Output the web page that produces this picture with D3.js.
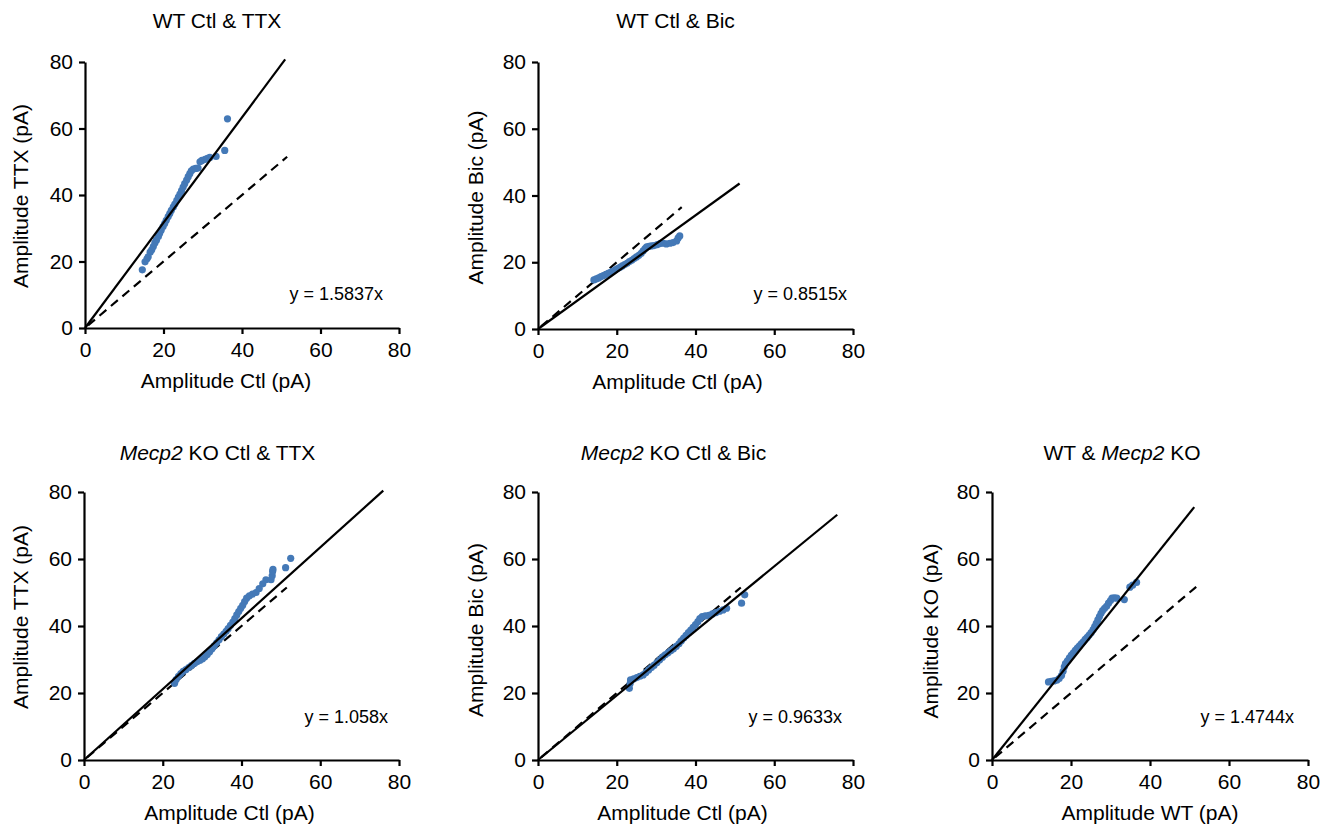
<!DOCTYPE html>
<html>
<head>
<meta charset="utf-8">
<script src="https://cdn.jsdelivr.net/npm/d3@7"></script>
<style>
  body { margin: 0; background: #fff; }
  svg { font-family: "Liberation Sans", Arial, Helvetica, sans-serif; }
  .axis path, .axis line { stroke: #000; stroke-width: 2.2; }
  .axis text { font-size: 21px; fill: #000; }
</style>
</head>
<body>
<svg id="chart" width="1331" height="826"></svg>
<script>
// values (pA)
var titles = [
  [["WT Ctl & TTX", false]],
  [["WT Ctl & Bic", false]],
  [["Mecp2", true], [" KO Ctl & TTX", false]],
  [["Mecp2", true], [" KO Ctl & Bic", false]],
  [["WT & ", false], ["Mecp2", true], [" KO", false]]
]
var xLabels = ["Amplitude Ctl (pA)", "Amplitude Ctl (pA)", "Amplitude Ctl (pA)", "Amplitude Ctl (pA)", "Amplitude WT (pA)"]
var yLabels = ["Amplitude TTX (pA)", "Amplitude Bic (pA)", "Amplitude TTX (pA)", "Amplitude Bic (pA)", "Amplitude KO (pA)"]
var slopes = [1.5837, 0.8515, 1.058, 0.9633, 1.4744]
var equations = ["y = 1.5837x", "y = 0.8515x", "y = 1.058x", "y = 0.9633x", "y = 1.4744x"]
var fitEnd = [51, 51.2, 76, 76, 51.2]
var unityEnd = [51.5, 36.5, 51.5, 51.5, 51.7]
var ticks = [0, 20, 40, 60, 80]

var wtTtx = [[14.6,17.5],[15.3,19.9],[15.8,20.8],[16.1,21.4],[16.6,22.8],[17.0,23.5],[17.4,24.5],[17.8,25.6],[18.2,26.4],[18.7,27.5],[19.0,28.4],[19.4,29.4],[19.9,30.5],[20.3,31.4],[20.7,32.4],[21.2,33.5],[21.6,34.4],[22.0,35.4],[22.5,36.4],[22.9,37.3],[23.4,38.4],[23.8,39.4],[24.2,40.3],[24.6,41.3],[25.0,42.4],[25.4,43.4],[25.9,44.5],[26.3,45.5],[26.7,46.4],[27.1,47.3],[27.6,47.8],[28.2,48.0],[28.8,48.1],[29.3,50.0],[29.8,50.4],[30.6,50.7],[31.2,51.0],[31.8,51.3],[33.4,51.6],[35.6,53.4],[36.3,62.9]]
var wtBic = [[14.2,14.7],[14.8,15.0],[15.4,15.3],[16.0,15.7],[16.6,16.0],[17.2,16.3],[17.8,16.7],[18.4,17.0],[19.0,17.3],[19.6,17.7],[20.2,18.1],[20.8,18.5],[21.4,18.9],[22.0,19.3],[22.6,19.7],[23.2,20.2],[23.8,20.6],[24.4,21.1],[25.0,21.6],[25.6,22.1],[26.2,22.7],[26.7,23.4],[27.2,24.1],[27.6,24.6],[28.2,24.8],[28.8,24.9],[29.5,25.0],[30.3,25.3],[31.0,25.6],[31.8,25.7],[32.6,25.5],[33.5,25.7],[34.3,25.9],[35.2,26.4],[35.6,27.3],[36.0,27.9]]
var koTtx = [[23.0,22.9],[23.4,24.0],[24.0,25.0],[24.6,25.8],[25.2,26.5],[25.9,27.0],[26.6,27.6],[27.3,28.2],[28.0,28.8],[28.7,29.3],[29.4,29.7],[30.1,30.2],[30.7,30.8],[31.3,31.5],[31.9,32.3],[32.5,33.2],[33.1,34.1],[33.7,35.0],[34.3,35.9],[34.9,36.8],[35.5,37.6],[36.1,38.4],[36.6,39.2],[37.2,40.2],[37.8,41.2],[38.3,42.2],[38.8,43.3],[39.3,44.3],[39.8,45.3],[40.3,46.2],[40.8,47.3],[41.3,48.3],[42.0,49.0],[42.8,49.5],[43.7,50.0],[44.5,51.2],[45.4,52.6],[46.2,53.8],[47.5,53.8],[47.8,55.0],[47.9,56.3],[48.0,56.9],[51.2,57.4],[52.5,60.2]]
var koBic = [[23.2,21.4],[23.4,22.8],[23.5,23.9],[24.3,24.2],[25.1,24.6],[25.9,25.0],[26.7,25.4],[27.4,26.1],[28.1,26.9],[28.8,27.6],[29.5,28.3],[30.2,29.1],[30.9,29.9],[31.6,30.7],[32.3,31.4],[33.0,32.0],[33.7,32.6],[34.4,33.2],[35.1,33.9],[35.8,34.7],[36.4,35.6],[37.0,36.4],[37.6,37.2],[38.2,38.0],[38.8,38.8],[39.4,39.6],[40.0,40.4],[40.6,41.3],[41.1,42.2],[41.7,42.8],[42.5,43.0],[43.4,43.2],[44.3,43.6],[45.2,44.0],[46.1,44.4],[47.0,44.8],[47.9,45.3],[51.7,46.8],[52.5,49.3]]
var wtKo = [[14.3,23.3],[15.0,23.5],[15.7,23.6],[16.4,23.8],[17.0,24.3],[17.6,25.2],[18.0,26.5],[18.3,27.8],[18.6,28.8],[19.1,29.6],[19.6,30.5],[20.1,31.3],[20.6,32.0],[21.1,32.7],[21.6,33.4],[22.1,34.0],[22.6,34.7],[23.1,35.3],[23.6,36.0],[24.1,36.6],[24.6,37.3],[25.1,38.0],[25.6,38.9],[26.0,39.8],[26.4,40.8],[26.8,41.8],[27.2,42.8],[27.6,43.8],[28.0,44.6],[28.5,45.3],[29.0,45.9],[29.5,46.8],[30.0,47.6],[30.4,48.3],[31.0,48.4],[31.6,48.3],[33.5,47.9],[34.9,51.6],[35.6,52.2],[36.6,53.0]]
var series = [wtTtx, wtBic, koTtx, koBic, wtKo]

// panel placement in pixels
var layout = [
  { left: 85, top: 62, w: 314, h: 266, titleY: 28, titleDx: -25, xlDx: -16, ylDy: 1, ylX: -57, eqX: 298, eqY: -28 },
  { left: 538, top: 62, w: 315, h: 267, titleY: 28, titleDx: -20, xlDx: -18, ylDy: 2, ylX: -55, eqX: 309, eqY: -29 },
  { left: 84, top: 492, w: 315, h: 268, titleY: 460, titleDx: -24, xlDx: -12, ylDy: -9, ylX: -56, eqX: 304, eqY: -37 },
  { left: 538, top: 492, w: 315, h: 268, titleY: 460, titleDx: -22, xlDx: -13, ylDy: 4, ylX: -55, eqX: 304, eqY: -37 },
  { left: 992, top: 492, w: 316, h: 268, titleY: 460, titleDx: -28, xlDx: 0, ylDy: 5, ylX: -54, eqX: 302, eqY: -37 }
]

var svg = d3.select("#chart")

series.forEach(function(data, i) {
  var L = layout[i]
  var x = d3.scaleLinear().domain([0, 80]).range([0, L.w])
  var y = d3.scaleLinear().domain([0, 80]).range([L.h, 0])
  var g = svg.append("g")
    .attr("transform", "translate(" + L.left + "," + L.top + ")")

  // title with italic gene name
  var t = svg.append("text")
    .attr("x", L.left + L.w / 2 + L.titleDx)
    .attr("y", L.titleY)
    .attr("text-anchor", "middle")
    .attr("font-size", "21px")
  titles[i].forEach(function(part) {
    t.append("tspan")
      .text(part[0])
      .attr("font-style", part[1] ? "italic" : "normal")
  })

  // unity (dashed) and fit (solid) lines
  var line = d3.line()
    .x(function(d) { return x(d[0]) })
    .y(function(d) { return y(d[1]) })
  g.append("path")
    .datum([[0, 0], [unityEnd[i], unityEnd[i]]])
    .attr("d", line)
    .attr("fill", "none")
    .attr("stroke", "#000")
    .attr("stroke-width", 2.2)
    .attr("stroke-dasharray", "9,6")
    .attr("stroke-dashoffset", -4)

  g.selectAll("circle")
    .data(data)
    .enter()
    .append("circle")
    .attr("cx", function(d) { return x(d[0]) })
    .attr("cy", function(d) { return y(d[1]) })
    .attr("r", 3.6)
    .attr("fill", "#4479b7")

  g.append("path")
    .datum([[0, 0], [fitEnd[i], fitEnd[i] * slopes[i]]])
    .attr("d", line)
    .attr("fill", "none")
    .attr("stroke", "#000")
    .attr("stroke-width", 2.2)

  g.append("g")
    .attr("class", "axis")
    .attr("transform", "translate(0," + L.h + ")")
    .call(d3.axisBottom(x).tickValues(ticks).tickSizeInner(6).tickSizeOuter(0).tickPadding(8))
  g.append("g")
    .attr("class", "axis")
    .call(d3.axisLeft(y).tickValues(ticks).tickSizeInner(6).tickSizeOuter(0).tickPadding(6))

  g.append("text")
    .attr("x", L.w / 2 + L.xlDx)
    .attr("y", L.h + 60)
    .attr("text-anchor", "middle")
    .attr("font-size", "21px")
    .text(xLabels[i])
  g.append("text")
    .attr("transform", "rotate(-90)")
    .attr("x", -L.h / 2 - L.ylDy)
    .attr("y", L.ylX)
    .attr("text-anchor", "middle")
    .attr("font-size", "21px")
    .text(yLabels[i])

  g.append("text")
    .attr("x", L.eqX)
    .attr("y", L.h + L.eqY)
    .attr("text-anchor", "end")
    .attr("font-size", "18px")
    .text(equations[i])
})
</script>
</body>
</html>
